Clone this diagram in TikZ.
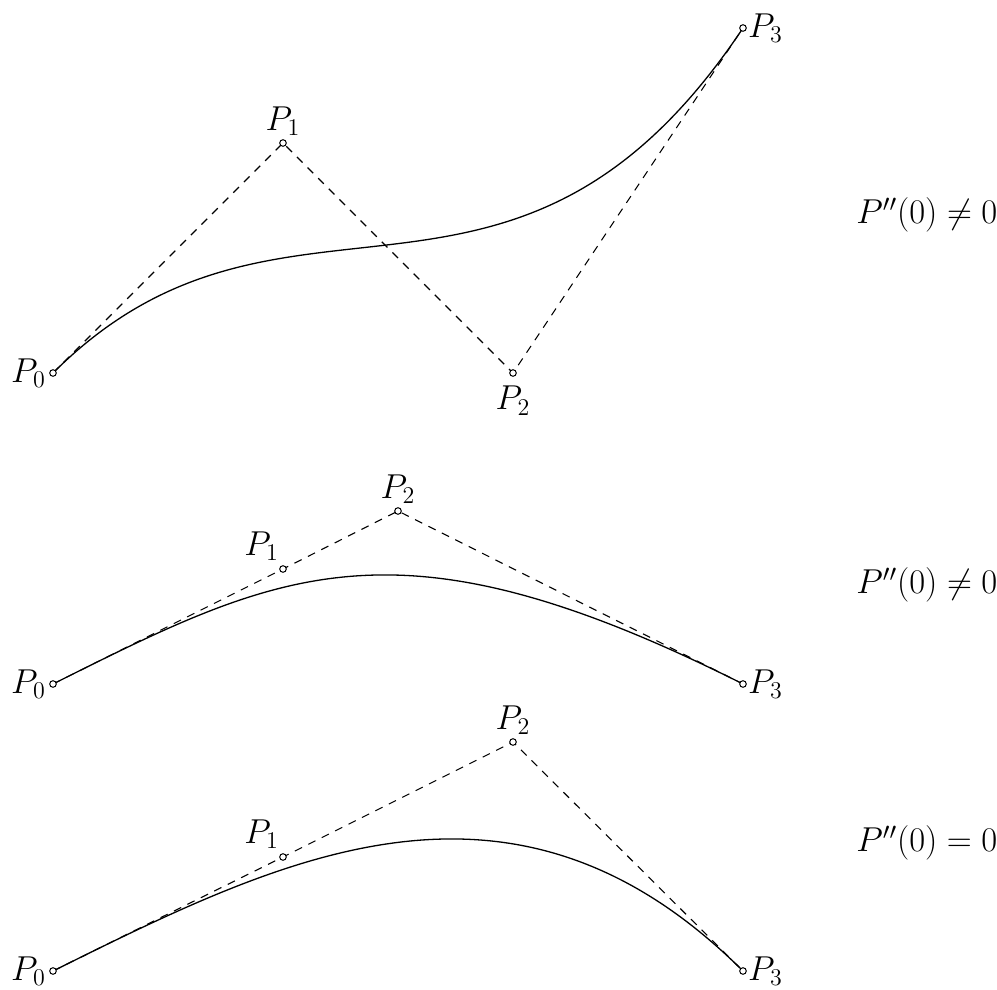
\documentclass[tikz,border=0pt]{standalone}
\usepackage{amsmath}
\usepackage{tikz}
\usetikzlibrary{positioning}

\begin{document}
\begin{tikzpicture}[
    x=0.5pt, y=-0.5pt,
    node distance=0pt and 0pt,
    ctrl/.style={circle, draw, fill=white, inner sep=0pt, minimum size=3.3pt, line width=0.5pt},
    poly/.style={dashed, dash pattern=on 4pt off 3.5pt, line width=0.55pt},
    curve/.style={line width=0.65pt},
    ptlabel/.style={font=\fontsize{17}{20}\selectfont, inner sep=1.5pt},
    cond/.style={font=\fontsize{17}{20}\selectfont, anchor=west, inner sep=0pt},
]
\useasboundingbox (0,0) rectangle (997,990);

% First curve
\coordinate (a0) at (53,373);
\coordinate (a1) at (283,143);
\coordinate (a2) at (513,373);
\coordinate (a3) at (743,28);
\draw[poly] (a0) -- (a1) -- (a2) -- (a3);
\draw[curve] (a0) .. controls (a1) and (a2) .. (a3);
\node[ctrl] (ca0) at (a0) {};
\node[ctrl] (ca1) at (a1) {};
\node[ctrl] (ca2) at (a2) {};
\node[ctrl] (ca3) at (a3) {};
\node[ptlabel, left=0pt of ca0] (la0) {$P_0$};
\node[ptlabel, above=0pt of ca1] (la1) {$P_1$};
\node[ptlabel, below=3pt of ca2] (la2) {$P_2$};
\node[ptlabel, right=-1pt of ca3] (la3) {$P_3$};
\node[cond] (ka) at (856,215) {$P''(0)\neq 0$};

% Second curve
\coordinate (b0) at (53,684);
\coordinate (b1) at (283,569);
\coordinate (b2) at (398,511);
\coordinate (b3) at (743,684);
\draw[poly] (b0) -- (b1) -- (b2) -- (b3);
\draw[curve] (b0) .. controls (b1) and (b2) .. (b3);
\node[ctrl] (cb0) at (b0) {};
\node[ctrl] (cb1) at (b1) {};
\node[ctrl] (cb2) at (b2) {};
\node[ctrl] (cb3) at (b3) {};
\node[ptlabel, left=0pt of cb0] (lb0) {$P_0$};
\node[ptlabel, above left=1pt and -1pt of cb1] (lb1) {$P_1$};
\node[ptlabel, above=0pt of cb2] (lb2) {$P_2$};
\node[ptlabel, right=-1pt of cb3] (lb3) {$P_3$};
\node[cond] (kb) at (856,585) {$P''(0)\neq 0$};

% Third curve
\coordinate (c0) at (53,971);
\coordinate (c1) at (283,857);
\coordinate (c2) at (513,742);
\coordinate (c3) at (743,971);
\draw[poly] (c0) -- (c1) -- (c2) -- (c3);
\draw[curve] (c0) .. controls (c1) and (c2) .. (c3);
\node[ctrl] (cc0) at (c0) {};
\node[ctrl] (cc1) at (c1) {};
\node[ctrl] (cc2) at (c2) {};
\node[ctrl] (cc3) at (c3) {};
\node[ptlabel, left=0pt of cc0] (lc0) {$P_0$};
\node[ptlabel, above left=1pt and -1pt of cc1] (lc1) {$P_1$};
\node[ptlabel, above=0pt of cc2] (lc2) {$P_2$};
\node[ptlabel, right=-1pt of cc3] (lc3) {$P_3$};
\node[cond] (kc) at (856,843) {$P''(0)=0$};

\end{tikzpicture}
\end{document}
